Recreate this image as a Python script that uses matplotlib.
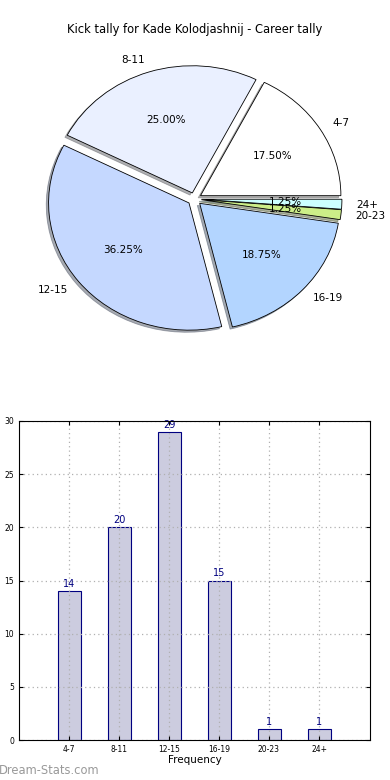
import numpy as np
import matplotlib
matplotlib.use("Agg")
import matplotlib.pyplot as plt

# kick tally data
categories = ["4-7", "8-11", "12-15", "16-19", "20-23", "24+"]
counts = [14, 20, 29, 15, 1, 1]
pie_colors = ["#ffffff", "#eaf0ff", "#c5d8ff", "#b3d5ff", "#ccee88", "#ccffff"]

fig = plt.figure(figsize=(3.9, 7.8), dpi=100)
W, H = 390.0, 780.0

# pie chart (not equal aspect, like the original)
ax1 = fig.add_axes([19 / W, 1 - 358 / H, 351 / W, 318 / H])
wedges, texts, autotexts = ax1.pie(
    counts, labels=categories, colors=pie_colors, explode=[0.05] * len(counts),
    autopct="%1.2f%%", shadow=dict(ox=-0.012, oy=-0.012, shade=0.6), startangle=0,
    wedgeprops=dict(edgecolor="black", linewidth=0.6),
    textprops=dict(fontsize=7.5))
ax1.set_aspect("auto")
ax1.set_xlim(-1.25, 1.25)
ax1.set_ylim(-1.25, 1.25)
ax1.axis("off")
fig.text(0.5, 1 - 30 / H, "Kick tally for Kade Kolodjashnij - Career tally",
         ha="center", va="center", fontsize=8.3, color="black")

# bar chart
ax2 = fig.add_axes([19 / W, 1 - 740 / H, 351 / W, 319 / H])
x = np.arange(len(categories))
ax2.bar(x, counts, width=0.46, color="#ccccdf", edgecolor="#000080",
        linewidth=0.8, zorder=2)
for xi, c in zip(x, counts):
    ax2.text(xi, c + 0.2, str(c), ha="center", va="bottom", fontsize=7,
             color="#000080")
ax2.set_xlim(-1, 6.02)
ax2.set_ylim(0, 30)
ax2.set_xticks(x)
ax2.set_xticklabels(categories, fontsize=5.5)
ax2.set_yticks(np.arange(0, 31, 5))
ax2.tick_params(axis="y", labelsize=5.5, direction="in", right=True, length=3)
ax2.tick_params(axis="x", direction="in", top=True, length=3)
ax2.grid(True, linestyle=(0, (1, 2.5)), color="#b0b0b0", linewidth=0.9, zorder=3)
ax2.set_axisbelow(False)
for sp in ax2.spines.values():
    sp.set_zorder(5)
ax2.set_xlabel("Frequency", fontsize=7.5, labelpad=1)
ax2.set_ylabel("Distribution", fontsize=7, labelpad=2)

fig.text(-0.003, 1 - 770 / H, "Dream-Stats.com", fontsize=8.3, color="#999999",
         va="center", ha="left")

fig.savefig("out.png", dpi=100)
